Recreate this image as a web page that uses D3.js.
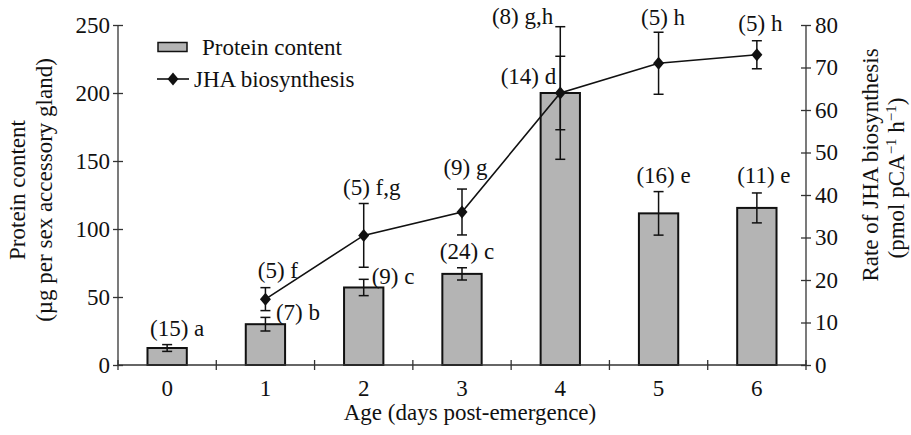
<!DOCTYPE html>
<html>
<head>
<meta charset="utf-8">
<script src="https://cdn.jsdelivr.net/npm/d3@7/dist/d3.min.js"></script>
<style>
  html, body { margin: 0; padding: 0; background: #fff; }
  svg { display: block; }
  text { font-family: "Liberation Serif", "Times New Roman", serif; fill: #111; }
</style>
</head>
<body>
<svg id="chart" width="911" height="435"></svg>
<script>
// ---- data ----
const days = [0, 1, 2, 3, 4, 5, 6];
const protein = [12.5, 30, 57, 67, 200, 111.5, 115.5];
const proteinErr = [2.5, 5, 6, 4.5, 27, 16, 11];
const proteinLabels = ["(15) a", "(7) b", "(9) c", "(24) c", "(14) d", "(16) e", "(11) e"];

const jhaDays = [1, 2, 3, 4, 5, 6];
const jha = [15.5, 30.5, 36, 64, 71, 73];
const jhaErr = [2.7, 7.5, 5.4, 15.6, 7.3, 3.3];
const jhaLabels = ["(5) f", "(5) f,g", "(9) g", "(8) g,h", "(5) h", "(5) h"];

const leftTicks = [0, 50, 100, 150, 200, 250];
const rightTicks = [0, 10, 20, 30, 40, 50, 60, 70, 80];

// ---- layout (label offsets relative to the error-bar top) ----
const protLabelPos = [
  {a: "middle", dx: 10, dy: -9},
  {a: "start", dx: 10.5, dy: 3},
  {a: "start", dx: 8, dy: 5},
  {a: "middle", dx: 5, dy: -9},
  {a: "end", dx: -4, dy: 28},
  {a: "middle", dx: 5, dy: -9},
  {a: "middle", dx: 7, dy: -10}
];
const jhaLabelPos = [
  {a: "middle", dx: 12.5, dy: -10},
  {a: "middle", dx: 8, dy: -9},
  {a: "middle", dx: 3.5, dy: -14},
  {a: "end", dx: -7, dy: -3},
  {a: "middle", dx: 4.5, dy: -7},
  {a: "middle", dx: 3.5, dy: -10}
];

const FS = 23;
const pLeft = 118, pRight = 806, pTop = 25, pBottom = 365;
const svg = d3.select("#chart");

const x = d3.scaleBand().domain(days).range([pLeft, pRight]).paddingInner(0.6).paddingOuter(0.3);
const yL = d3.scaleLinear().domain([0, 250]).range([pBottom, pTop]);
const yR = d3.scaleLinear().domain([0, 80]).range([pBottom, pTop]);
const xc = d => x(d) + x.bandwidth() / 2;

// ---- bars ----
svg.append("g").selectAll("rect").data(days).join("rect")
  .attr("x", d => x(d))
  .attr("y", (d, i) => yL(protein[i]))
  .attr("width", x.bandwidth())
  .attr("height", (d, i) => yL(0) - yL(protein[i]))
  .attr("fill", "#b4b4b4")
  .attr("stroke", "#111")
  .attr("stroke-width", 2);

// error bars helper
function errBars(g, xs, vals, errs, scale) {
  const cap = 5;
  xs.forEach((d, i) => {
    const cx = xc(d), hi = scale(vals[i] + errs[i]), lo = scale(vals[i] - errs[i]);
    g.append("line").attr("x1", cx).attr("x2", cx).attr("y1", hi).attr("y2", lo);
    g.append("line").attr("x1", cx - cap).attr("x2", cx + cap).attr("y1", hi).attr("y2", hi);
    g.append("line").attr("x1", cx - cap).attr("x2", cx + cap).attr("y1", lo).attr("y2", lo);
  });
}
const gErrB = svg.append("g").attr("stroke", "#111").attr("stroke-width", 1.5);
errBars(gErrB, days, protein, proteinErr, yL);

// ---- axes ----
const axisColor = "#333";
const gx = svg.append("g");
gx.append("line").attr("x1", pLeft).attr("x2", pRight).attr("y1", pBottom).attr("y2", pBottom)
  .attr("stroke", axisColor).attr("stroke-width", 1.3);
const step = x.step();
gx.selectAll("line.tk").data(d3.range(days.length + 1)).join("line").attr("class", "tk")
  .attr("x1", i => pLeft + i * step).attr("x2", i => pLeft + i * step)
  .attr("y1", pBottom - 5).attr("y2", pBottom + 5)
  .attr("stroke", axisColor).attr("stroke-width", 1.3);
const xAxis = d3.axisBottom(x).tickSize(0).tickPadding(0);
const gxa = svg.append("g").attr("transform", `translate(0,${pBottom})`).call(xAxis);
gxa.select(".domain").remove();
gxa.selectAll("text").attr("font-size", FS).attr("dy", null).attr("y", 31)
  .style("font-family", '"Liberation Serif", serif').attr("fill", "#111");

// left axis
const gyl = svg.append("g").attr("transform", `translate(${pLeft},0)`)
  .call(d3.axisLeft(yL).tickValues(leftTicks).tickSize(5).tickPadding(8));
gyl.select(".domain").attr("d", `M0,${pBottom}V${pTop}`).attr("stroke", axisColor).attr("stroke-width", 1.3);
gyl.selectAll(".tick line").attr("x1", -5).attr("x2", 5).attr("stroke", axisColor).attr("stroke-width", 1.3);
gyl.selectAll(".tick text").attr("x", -8).attr("font-size", FS)
  .style("font-family", '"Liberation Serif", serif').attr("fill", "#111");

// right axis
const gyr = svg.append("g").attr("transform", `translate(${pRight},0)`)
  .call(d3.axisRight(yR).tickValues(rightTicks).tickSize(5).tickPadding(9));
gyr.select(".domain").attr("d", `M0,${pBottom}V${pTop}`).attr("stroke", axisColor).attr("stroke-width", 1.3);
gyr.selectAll(".tick line").attr("x1", -5).attr("x2", 5).attr("stroke", axisColor).attr("stroke-width", 1.3);
gyr.selectAll(".tick text").attr("x", 9).attr("font-size", FS)
  .style("font-family", '"Liberation Serif", serif').attr("fill", "#111");

// ---- line series ----
const gErrL = svg.append("g").attr("stroke", "#111").attr("stroke-width", 1.5);
errBars(gErrL, jhaDays, jha, jhaErr, yR);

const line = d3.line().x((d, i) => xc(jhaDays[i])).y(d => yR(d));
svg.append("path").datum(jha).attr("d", line)
  .attr("fill", "none").attr("stroke", "#111").attr("stroke-width", 1.6);

const diamond = {
  draw(ctx, size) {
    const w = 5.5, h = 6.5;
    ctx.moveTo(0, -h); ctx.lineTo(w, 0); ctx.lineTo(0, h); ctx.lineTo(-w, 0); ctx.closePath();
  }
};
const sym = d3.symbol().type(diamond);
svg.append("g").selectAll("path").data(jha).join("path")
  .attr("d", sym)
  .attr("transform", (d, i) => `translate(${xc(jhaDays[i])},${yR(d)})`)
  .attr("fill", "#111");

// ---- labels ----
const gLab = svg.append("g").attr("font-size", FS);
proteinLabels.forEach((t, i) => {
  const p = protLabelPos[i];
  gLab.append("text").attr("x", xc(days[i]) + p.dx).attr("y", yL(protein[i] + proteinErr[i]) + p.dy)
    .attr("text-anchor", p.a).text(t);
});
jhaLabels.forEach((t, i) => {
  const p = jhaLabelPos[i];
  gLab.append("text").attr("x", xc(jhaDays[i]) + p.dx).attr("y", yR(jha[i] + jhaErr[i]) + p.dy)
    .attr("text-anchor", p.a).text(t);
});

// ---- legend ----
const lg = svg.append("g").attr("font-size", FS);
lg.append("rect").attr("x", 158).attr("y", 42.5).attr("width", 29).attr("height", 9)
  .attr("fill", "#b4b4b4").attr("stroke", "#111").attr("stroke-width", 1.5);
lg.append("text").attr("x", 202).attr("y", 55).text("Protein content");
lg.append("line").attr("x1", 157).attr("x2", 189).attr("y1", 79).attr("y2", 79)
  .attr("stroke", "#111").attr("stroke-width", 1.6);
lg.append("path").attr("d", sym).attr("transform", "translate(173,79)").attr("fill", "#111");
lg.append("text").attr("x", 194).attr("y", 87).text("JHA biosynthesis");

// ---- axis titles ----
svg.append("text").attr("x", (pLeft + pRight) / 2 + 8).attr("y", 420).attr("text-anchor", "middle")
  .attr("font-size", FS).text("Age (days post-emergence)");

const lt = svg.append("g").attr("font-size", FS).attr("text-anchor", "middle");
lt.append("text").attr("transform", "translate(25,190) rotate(-90)").text("Protein content");
lt.append("text").attr("transform", "translate(52,190) rotate(-90)").text("(\u00b5g per sex accessory gland)");

const rt = svg.append("g").attr("font-size", FS).attr("text-anchor", "middle");
rt.append("text").attr("transform", "translate(878,165) rotate(-90)").text("Rate of JHA biosynthesis");
const r2 = rt.append("text").attr("transform", "translate(904,178) rotate(-90)");
r2.append("tspan").text("(pmol pCA");
r2.append("tspan").attr("font-size", 15).attr("dy", -8).text("\u22121");
r2.append("tspan").attr("dy", 8).text(" h");
r2.append("tspan").attr("font-size", 15).attr("dy", -8).text("\u22121");
r2.append("tspan").attr("dy", 8).text(")");
</script>
</body>
</html>
